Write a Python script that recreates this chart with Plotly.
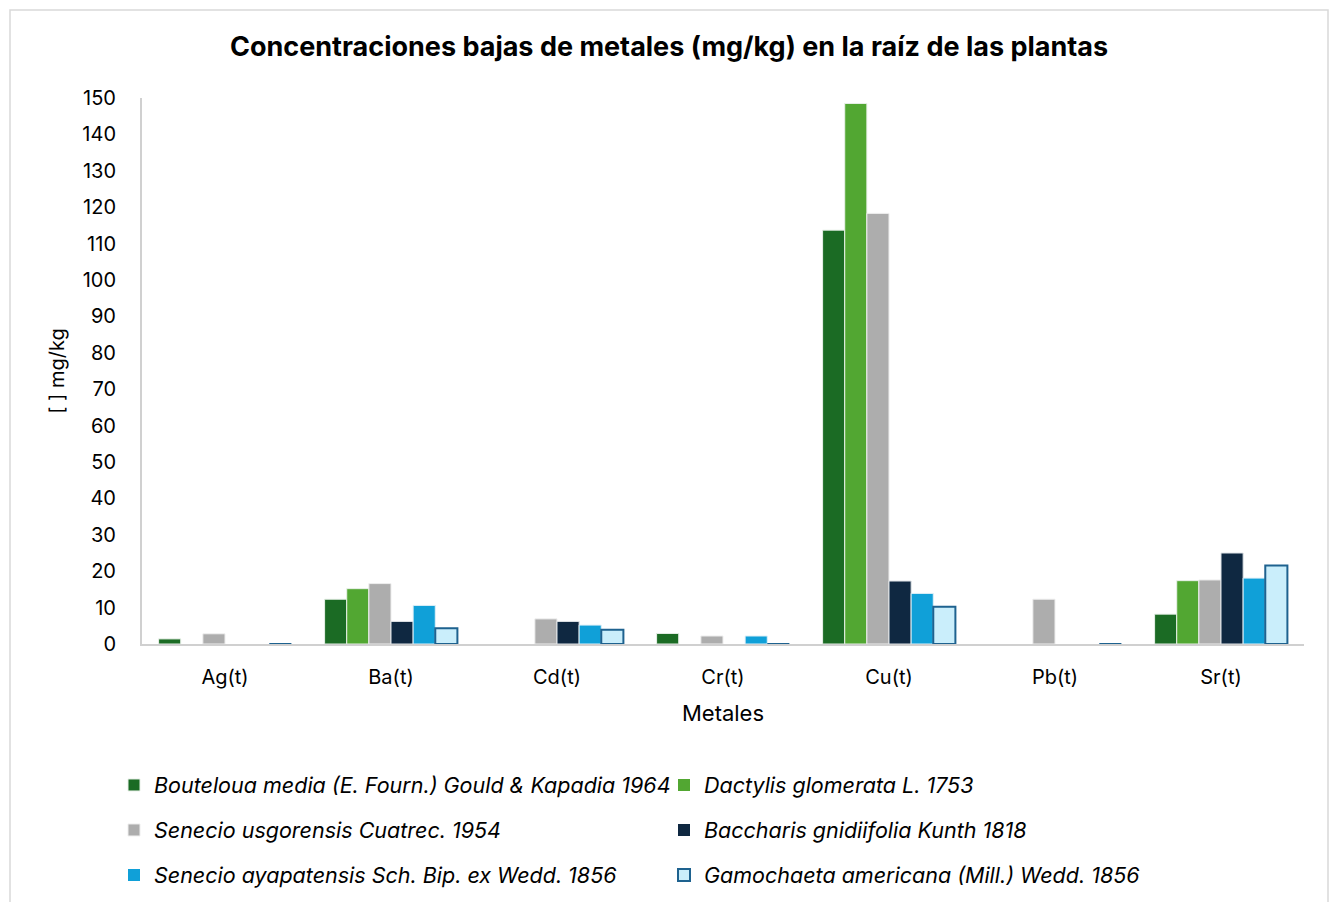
import plotly.graph_objects as go

categories = ["Ag(t)", "Ba(t)", "Cd(t)", "Cr(t)", "Cu(t)", "Pb(t)", "Sr(t)"]

species = [
    "Bouteloua media (E. Fourn.) Gould & Kapadia 1964",
    "Dactylis glomerata L. 1753",
    "Senecio usgorensis Cuatrec. 1954",
    "Baccharis gnidiifolia Kunth 1818",
    "Senecio ayapatensis Sch. Bip. ex Wedd. 1856",
    "Gamochaeta americana (Mill.) Wedd. 1856",
]

bouteloua = [1.4, 12.3, 0, 2.9, 113.7, 0, 8.2]
dactylis = [0, 15.2, 0, 0, 148.5, 0, 17.4]
senecio_usg = [2.8, 16.6, 6.9, 2.2, 118.3, 12.3, 17.6]
baccharis = [0, 6.2, 6.2, 0, 17.3, 0, 25.0]
senecio_aya = [0, 10.6, 5.2, 2.2, 13.9, 0, 18.1]
gamochaeta = [0, 4.3, 3.9, 0, 10.2, 0, 21.6]

series = [bouteloua, dactylis, senecio_usg, baccharis, senecio_aya, gamochaeta]
colors = ["#1B6B24", "#52A732", "#ADADAD", "#0F2841", "#10A0D8", "#CAEEFB"]
line_colors = ["#E8F0E8", "#E8F0E8", "#EEEEEE", "#E0E4E8", "#E0F0F8", "#1E628F"]
line_widths = [1, 1, 1, 1, 1, 2]
legend_ids = ["legend", "legend", "legend2", "legend2", "legend3", "legend3"]

font_family = "Inter, Liberation Sans, Arial, sans-serif"

fig = go.Figure()
for i, (name, vals, c, lc, lw, lg) in enumerate(zip(species, series, colors, line_colors, line_widths, legend_ids)):
    # light outlines are hidden on zero-height bars; the outlined series keeps a uniform width
    width = lw if lw > 1 else [lw if v > 0 else 0 for v in vals]
    fig.add_trace(go.Bar(
        x=categories, y=vals, name="<i>" + name + "</i>",
        marker=dict(color=c, line=dict(color=lc, width=width)),
        legend=lg, legendrank=i,
    ))

L, R, T, B = 142, 34, 98, 258
W, H = 1338, 902
pw, ph = W - L - R, H - T - B

def px_x(p):
    return (p - L) / pw

def px_y(p):
    return (H - B - p) / ph

leg_common = dict(
    orientation="h",
    entrywidth=505, entrywidthmode="pixels",
    font=dict(family=font_family, size=21.5, color="#000000"),
    xanchor="left", yanchor="middle",
    bgcolor="rgba(0,0,0,0)",
    itemclick=False,
)

fig.update_layout(
    width=W, height=H,
    margin=dict(l=L, r=R, t=T, b=B, autoexpand=False),
    paper_bgcolor="white", plot_bgcolor="white",
    barmode="group", bargap=0.2, bargroupgap=0,
    font=dict(family=font_family, color="#000000"),
    title=dict(
        text="<b>Concentraciones bajas de metales (mg/kg) en la raíz de las plantas</b>",
        x=0.5, xref="container", xanchor="center", y=1 - 47 / H, yanchor="middle",
        font=dict(size=27, family=font_family, color="#000000"),
    ),
    xaxis=dict(
        title=dict(text="Metales", font=dict(size=22), standoff=18),
        tickfont=dict(size=20),
        ticklabelstandoff=14,
        showline=True, linecolor="#D0D0D0", linewidth=2,
        showgrid=False, ticks="",
    ),
    yaxis=dict(
        title=dict(text="[ ] mg/kg", font=dict(size=20), standoff=12),
        range=[0, 150], dtick=10,
        tickfont=dict(size=20),
        ticklabelstandoff=20,
        showline=True, linecolor="#D0D0D0", linewidth=2,
        showgrid=False, zeroline=False, ticks="",
    ),
    legend=dict(x=px_x(114), y=px_y(785), **leg_common),
    legend2=dict(x=px_x(114), y=px_y(830), **leg_common),
    legend3=dict(x=px_x(114), y=px_y(875), **leg_common),
    showlegend=True,
)

fig.add_shape(
    type="rect", xref="paper", yref="paper",
    x0=px_x(10), x1=px_x(1328), y0=px_y(905), y1=px_y(10),
    line=dict(color="#D9D9D9", width=1.5), fillcolor="rgba(0,0,0,0)",
    layer="below",
)

fig.write_html("out.html")
